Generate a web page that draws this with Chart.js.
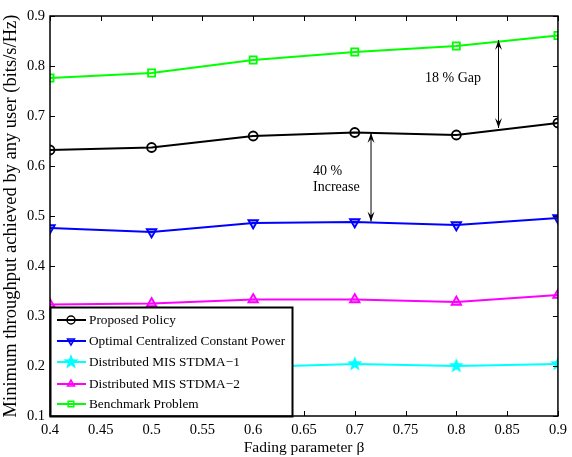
<!DOCTYPE html>
<html>
<head>
<meta charset="utf-8">
<script src="https://cdn.jsdelivr.net/npm/chart.js@4/dist/chart.umd.min.js"></script>
<style>
  html, body { margin: 0; padding: 0; background: #fff; }
  #wrap { width: 572px; height: 457px; }
</style>
</head>
<body>
<div id="wrap"><canvas id="chart"></canvas></div>
<script>
// Dados
const beta = [0.4, 0.5, 0.6, 0.7, 0.8, 0.9];
const proposedPolicy = [0.632, 0.637, 0.660, 0.667, 0.662, 0.686];
const optimalCentralized = [0.476, 0.468, 0.486, 0.488, 0.482, 0.496];
const misStdma1 = [0.194, 0.196, 0.198, 0.204, 0.200, 0.204];
const misStdma2 = [0.323, 0.325, 0.333, 0.333, 0.328, 0.342];
const benchmark = [0.776, 0.786, 0.812, 0.828, 0.840, 0.861];

const seriesNames = ['Proposed Policy', 'Optimal Centralized Constant Power', 'Distributed MIS STDMA\u22121', 'Distributed MIS STDMA\u22122', 'Benchmark Problem'];
const xTicks = [0.4, 0.45, 0.5, 0.55, 0.6, 0.65, 0.7, 0.75, 0.8, 0.85, 0.9];
const yTicks = [0.1, 0.2, 0.3, 0.4, 0.5, 0.6, 0.7, 0.8, 0.9];

const FONT = '"Liberation Serif", "Times New Roman", serif';

// estrela cheia para o marcador ciano
function makeStar(color, r) {
  const c = document.createElement('canvas');
  c.width = r * 2 + 2; c.height = r * 2 + 2;
  const g = c.getContext('2d');
  g.translate(r + 1, r + 1);
  g.beginPath();
  for (let i = 0; i < 10; i++) {
    const rad = i % 2 === 0 ? r : r * 0.42;
    const a = -Math.PI / 2 + i * Math.PI / 5;
    g.lineTo(rad * Math.cos(a), rad * Math.sin(a));
  }
  g.closePath();
  g.fillStyle = color;
  g.fill();
  return c;
}
const starImg = makeStar('#00ffff', 8);

function pts(arr) { return arr.map((v, i) => ({ x: beta[i], y: v })); }

const datasets = [
  { label: seriesNames[0], data: pts(proposedPolicy), borderColor: '#000', pointStyle: 'circle', pointRadius: 4.5, pointBorderColor: '#000', pointBackgroundColor: 'rgba(0,0,0,0)', pointBorderWidth: 1.8 },
  { label: seriesNames[1], data: pts(optimalCentralized), borderColor: '#0000ff', pointStyle: 'triangle', rotation: 180, pointRadius: 5.5, pointBorderColor: '#0000ff', pointBackgroundColor: 'rgba(0,0,255,0.3)', pointBorderWidth: 1.8 },
  { label: seriesNames[2], data: pts(misStdma1), borderColor: '#00ffff', pointStyle: starImg, pointRadius: 8, pointBackgroundColor: '#00ffff' },
  { label: seriesNames[3], data: pts(misStdma2), borderColor: '#ff00ff', pointStyle: 'triangle', pointRadius: 5.5, pointBorderColor: '#ff00ff', pointBackgroundColor: 'rgba(255,0,255,0.3)', pointBorderWidth: 1.8 },
  { label: seriesNames[4], data: pts(benchmark), borderColor: '#00ff00', pointStyle: 'rect', pointRadius: 5, pointBorderColor: '#00ff00', pointBackgroundColor: 'rgba(0,0,0,0)', pointBorderWidth: 1.8 }
].map(d => Object.assign({ borderWidth: 2, fill: false, tension: 0 }, d));

// moldura, marcas internas, setas e legenda
const decor = {
  id: 'decor',
  afterDatasetsDraw(chart) {
    const { ctx, chartArea: a, scales } = chart;
    const xs = scales.x, ys = scales.y;
    ctx.save();

    // setas duplas
    function dblArrow(xv, y1, y2) {
      const x = xs.getPixelForValue(xv);
      const p1 = ys.getPixelForValue(y1), p2 = ys.getPixelForValue(y2);
      ctx.strokeStyle = '#000'; ctx.fillStyle = '#000'; ctx.lineWidth = 1;
      ctx.beginPath(); ctx.moveTo(x, p1); ctx.lineTo(x, p2); ctx.stroke();
      [[p1, 1], [p2, -1]].forEach(([p, s]) => {
        ctx.beginPath();
        ctx.moveTo(x, p);
        ctx.lineTo(x - 3.5, p + s * 10);
        ctx.lineTo(x, p + s * 6);
        ctx.lineTo(x + 3.5, p + s * 10);
        ctx.closePath(); ctx.fill();
      });
    }
    dblArrow(0.716, 0.666, 0.489);
    dblArrow(0.8415, 0.852, 0.676);

    ctx.fillStyle = '#000';
    ctx.font = '14px ' + FONT;
    ctx.textAlign = 'left'; ctx.textBaseline = 'middle';
    ctx.fillText('18 % Gap', 425, 78);
    ctx.fillText('40 %', 313, 171);
    ctx.fillText('Increase', 313, 187);

    // marcas para dentro
    ctx.strokeStyle = '#000'; ctx.lineWidth = 1;
    ctx.beginPath();
    xTicks.forEach(v => {
      const x = Math.round(xs.getPixelForValue(v)) + 0.5;
      ctx.moveTo(x, a.bottom); ctx.lineTo(x, a.bottom - 5);
      ctx.moveTo(x, a.top); ctx.lineTo(x, a.top + 5);
    });
    yTicks.forEach(v => {
      const y = Math.round(ys.getPixelForValue(v)) + 0.5;
      ctx.moveTo(a.left, y); ctx.lineTo(a.left + 5, y);
      ctx.moveTo(a.right, y); ctx.lineTo(a.right - 5, y);
    });
    ctx.stroke();

    // legenda dentro do gráfico
    const lx = a.left, ly = 307, lw = 242, lh = a.bottom - ly;
    ctx.fillStyle = '#fff';
    ctx.fillRect(lx, ly, lw, lh);
    ctx.strokeStyle = '#000'; ctx.lineWidth = 2;
    ctx.strokeRect(lx + 0.5, ly + 0.5, lw, lh);
    const rows = [320, 341, 362, 384, 404];
    chart.data.datasets.forEach((ds, i) => {
      const y = rows[i];
      ctx.strokeStyle = ds.borderColor; ctx.lineWidth = 2;
      ctx.beginPath(); ctx.moveTo(lx + 7, y); ctx.lineTo(lx + 36, y); ctx.stroke();
      ctx.strokeStyle = ds.pointBorderColor || ds.borderColor;
      ctx.fillStyle = ds.pointBackgroundColor;
      ctx.lineWidth = 1.5;
      const r = ds.pointStyle === starImg ? 8 : 4;
      Chart.helpers.drawPoint(ctx, { pointStyle: ds.pointStyle, rotation: ds.rotation || 0, radius: r, borderWidth: 1.5 }, lx + 21, y);
      ctx.fillStyle = '#000';
      ctx.font = '13.3px ' + FONT;
      ctx.textAlign = 'left'; ctx.textBaseline = 'middle';
      ctx.fillText(ds.label, lx + 39, y + 1);
    });

    // moldura
    ctx.strokeStyle = '#000'; ctx.lineWidth = 1.5;
    ctx.strokeRect(a.left, a.top, a.right - a.left, a.bottom - a.top);
    ctx.restore();
  }
};

new Chart(document.getElementById('chart'), {
  type: 'line',
  data: { datasets: datasets },
  plugins: [decor],
  options: {
    responsive: true,
    maintainAspectRatio: false,
    animation: false,
    layout: { padding: { top: 16, right: 9, left: 0, bottom: 0 } },
    plugins: { legend: { display: false }, tooltip: { enabled: false } },
    scales: {
      x: {
        type: 'linear', min: 0.4, max: 0.9,
        afterBuildTicks: s => { s.ticks = xTicks.map(v => ({ value: v })); },
        afterFit: s => { s.height = 41; },
        grid: { display: false, drawTicks: false },
        border: { display: false },
        ticks: { color: '#000', font: { family: FONT, size: 14.5 }, padding: 5, maxRotation: 0, autoSkip: false, callback: v => String(+v.toFixed(2)) },
        title: { display: true, text: 'Fading parameter \u03b2', color: '#000', font: { family: FONT, size: 15.5 }, padding: { top: 0, bottom: 0 } }
      },
      y: {
        type: 'linear', min: 0.1, max: 0.9,
        afterBuildTicks: s => { s.ticks = yTicks.map(v => ({ value: v })); },
        afterFit: s => { s.width = 50; },
        grid: { display: false, drawTicks: false },
        border: { display: false },
        ticks: { color: '#000', font: { family: FONT, size: 14.5 }, padding: 5, autoSkip: false, callback: v => String(+v.toFixed(1)) },
        title: { display: true, text: 'Minimum throughput achieved by any user (bits/s/Hz)', color: '#000', font: { family: FONT, size: 18.5 }, padding: { top: 0, bottom: 0 } }
      }
    }
  }
});
</script>
</body>
</html>
